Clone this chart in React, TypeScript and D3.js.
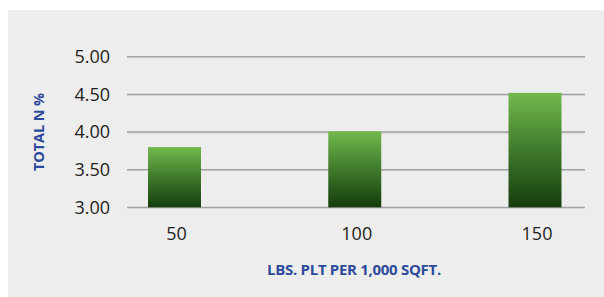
import React from "react";
import * as d3 from "d3";

const categories = ["50", "100", "150"];
const values = [3.8, 4.01, 4.52];
const yTicks = [3.0, 3.5, 4.0, 4.5, 5.0];

const width = 604;
const height = 297;

export default function App() {
  const x = d3.scalePoint<string>().domain(categories).range([174.5, 535]);
  const y = d3.scaleLinear().domain([3, 5]).range([207.3, 56.7]);
  const barW = 53;
  const fmt = d3.format(".2f");

  return (
    <svg
      width={width}
      height={height}
      style={{ position: "absolute", left: 0, top: 0, fontFamily: "'Open Sans', sans-serif" }}
    >
      <defs>
        <linearGradient id="barGrad" x1="0" y1="0" x2="0" y2="1">
          <stop offset="0%" stopColor="#72b94d" />
          <stop offset="50%" stopColor="#3f7a2c" />
          <stop offset="100%" stopColor="#153d0c" />
        </linearGradient>
      </defs>
      <rect x={0} y={0} width={width} height={height} fill="#ffffff" />
      <rect x={8} y={10} width={width - 8} height={height - 10} fill="#ededed" />

      {/* gridlines */}
      {yTicks.map((t) => (
        <g key={t}>
          <line x1={127} x2={585} y1={y(t) + 1} y2={y(t) + 1} stroke="#cfcfcf" strokeWidth={1} />
          <line x1={127} x2={585} y1={y(t)} y2={y(t)} stroke="#a2a2a2" strokeWidth={1.3} />
        </g>
      ))}

      {/* y tick labels */}
      {yTicks.map((t) => (
        <text
          key={"l" + t}
          x={110}
          y={y(t)}
          dy="0.36em"
          textAnchor="end"
          fontSize={18}
          fill="#231f20"
        >
          {fmt(t)}
        </text>
      ))}

      {/* bars */}
      {categories.map((c, i) => (
        <rect
          key={c}
          x={(x(c) as number) - barW / 2}
          y={y(values[i])}
          width={barW}
          height={y(3) - y(values[i])}
          fill="url(#barGrad)"
        />
      ))}

      {/* x tick labels */}
      {categories.map((c) => (
        <text
          key={"x" + c}
          x={(x(c) as number) + 2}
          y={240}
          textAnchor="middle"
          fontSize={18}
          fill="#231f20"
        >
          {c}
        </text>
      ))}

      {/* axis titles */}
      <text
        x={354}
        y={275}
        textAnchor="middle"
        fontSize={15}
        fontWeight="bold"
        fill="#2e4b9b"
        letterSpacing={-0.3}
      >
        LBS. PLT PER 1,000 SQFT.
      </text>
      <text
        transform={`translate(44,132) rotate(-90)`}
        textAnchor="middle"
        fontSize={14.5}
        fontWeight="bold"
        fill="#2e4b9b"
        letterSpacing={-0.1}
      >
        TOTAL N %
      </text>
    </svg>
  );
}
